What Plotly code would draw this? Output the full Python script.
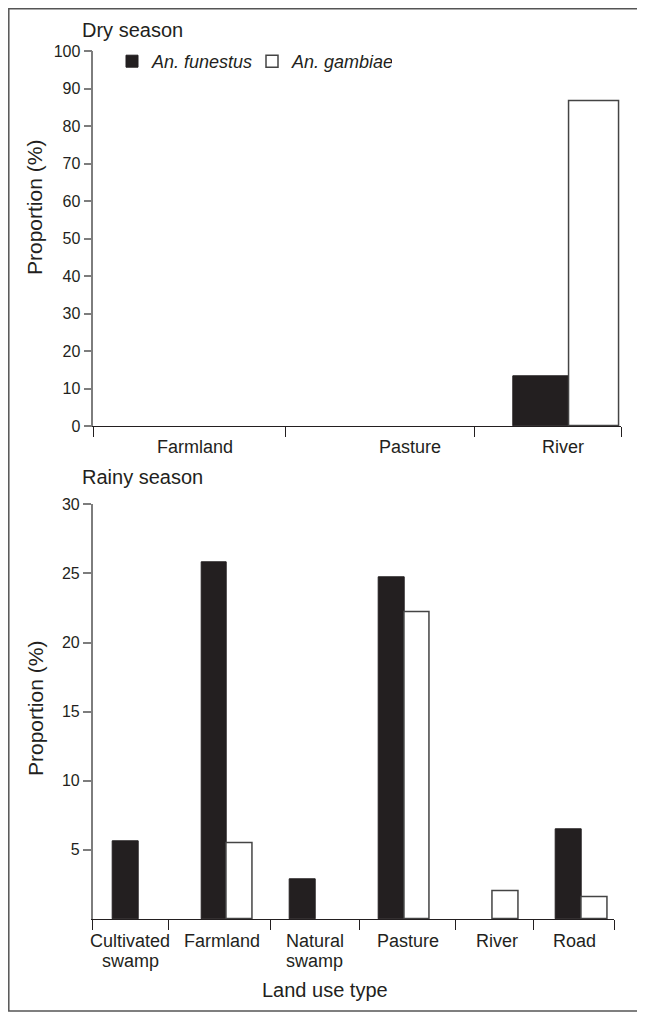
import plotly.graph_objects as go

# ---------------- data ----------------
species = ["An. funestus", "An. gambiae"]

dry_categories = ["Farmland", "Pasture", "River"]
dry_funestus = [0, 0, 13.4]
dry_gambiae = [0, 0, 86.6]
dry_yticks = [0, 10, 20, 30, 40, 50, 60, 70, 80, 90, 100]

rainy_categories = ["Cultivated\nswamp", "Farmland", "Natural\nswamp", "Pasture", "River", "Road"]
rainy_funestus = [5.6, 25.8, 2.9, 24.7, 0, 6.5]
rainy_gambiae = [0, 5.5, 0, 22.2, 2.0, 1.6]
rainy_yticks = [5, 10, 15, 20, 25, 30]

# ---------------- layout helpers ----------------
OFF = 8                      # page body margin added by the browser
W, H = 645 - OFF, 1020 - OFF
def px(x):
    return (x - OFF) / W
def py(y):
    return 1 - (y - OFF) / H

INK = "#231f20"
AXGRAY = "#7d7d7d"
FONT = "Liberation Sans, Arial, Helvetica, sans-serif"

# separator tick positions (category boundaries) and label shifts (layout only)
dry_sep = [-0.51, 0.5, 1.5, 2.27]
dry_label_shift = [5, 30, -7]
rainy_sep = [-0.514, 0.338, 1.493, 2.49, 3.578, 4.453, 5.366]
rainy_label_shift = [-8, -5, -1, 4, 4, -7]

dry_x = list(range(len(dry_categories)))
rainy_x = list(range(len(rainy_categories)))

def drawn(vals):
    # zero-height bars are not drawn in the original
    return [v if v else None for v in vals]

fig = go.Figure()

# Dry season bars
fig.add_trace(go.Bar(x=dry_x, y=drawn(dry_funestus), name="<i>%s</i>" % species[0],
                     width=0.3, offset=-0.3, marker=dict(color=INK, line=dict(color=INK, width=1)),
                     xaxis="x", yaxis="y", legendgroup="f", showlegend=True))
fig.add_trace(go.Bar(x=dry_x, y=drawn(dry_gambiae), name="<i>%s</i>" % species[1],
                     width=0.26, offset=0, marker=dict(color="white", line=dict(color="#444", width=1.5)),
                     xaxis="x", yaxis="y", legendgroup="g", showlegend=True))

# Rainy season bars
fig.add_trace(go.Bar(x=rainy_x, y=drawn(rainy_funestus), name=species[0],
                     width=0.29, offset=-0.29, marker=dict(color=INK, line=dict(color=INK, width=1)),
                     xaxis="x2", yaxis="y2", legendgroup="f", showlegend=False))
fig.add_trace(go.Bar(x=rainy_x, y=drawn(rainy_gambiae), name=species[1],
                     width=0.29, offset=0, marker=dict(color="white", line=dict(color="#444", width=1.5)),
                     xaxis="x2", yaxis="y2", legendgroup="g", showlegend=False))

xcommon = dict(showline=True, linecolor=INK, linewidth=1, ticks="outside", ticklen=10,
               tickcolor=INK, tickwidth=1, showticklabels=False, showgrid=False,
               zeroline=False, automargin=False, fixedrange=True)
ycommon = dict(showline=True, linecolor=AXGRAY, linewidth=1.5, ticks="outside", ticklen=8,
               tickcolor=AXGRAY, tickwidth=1.5, showgrid=False, zeroline=False,
               automargin=False, fixedrange=True,
               tickfont=dict(size=16, color=INK, family=FONT))

annotations = []
def txt(text, x, y, size, xanchor="center", yanchor="middle", angle=0, xref="paper", xshift=0):
    annotations.append(dict(text=text, x=x, y=y, xref=xref, yref="paper", showarrow=False,
                            xanchor=xanchor, yanchor=yanchor, textangle=angle, xshift=xshift,
                            font=dict(size=size, color=INK, family=FONT)))

txt("Dry season", px(80), py(30), 20, xanchor="left")
txt("Rainy season", px(80), py(477), 20, xanchor="left")
txt("Proportion (%)", px(35), py(208), 21, angle=-90)
txt("Proportion (%)", px(35), py(709), 21, angle=-90)
txt("Land use type", px(325), py(990), 20)

for i, c in enumerate(dry_categories):
    txt(c, i, py(446.5), 18, xref="x", xshift=dry_label_shift[i])
for i, c in enumerate(rainy_categories):
    for j, line in enumerate(c.split("\n")):
        txt(line, i, py(941 + 20 * j), 18, xref="x2", xshift=rainy_label_shift[i])

fig.update_layout(
    width=W, height=H,
    margin=dict(l=0, r=0, t=0, b=0, pad=0),
    paper_bgcolor="white", plot_bgcolor="white",
    font=dict(family=FONT, color=INK),
    barmode="overlay",
    bargap=0,
    xaxis=dict(domain=[px(93.3), px(621)], range=[dry_sep[0], dry_sep[-1]], tickvals=dry_sep,
               anchor="y", **xcommon),
    yaxis=dict(domain=[py(426.3), py(51.3)], range=[0, 100], tickvals=dry_yticks,
               anchor="x", **ycommon),
    xaxis2=dict(domain=[px(92.7), px(614.3)], range=[rainy_sep[0], rainy_sep[-1]], tickvals=rainy_sep,
                anchor="y2", **xcommon),
    yaxis2=dict(domain=[py(919), py(504.3)], range=[0, 30], tickvals=rainy_yticks,
                anchor="x2", **ycommon),
    legend=dict(orientation="h", x=px(112), y=py(61.5), xanchor="left", yanchor="middle",
                bgcolor="rgba(0,0,0,0)", borderwidth=0, entrywidth=95, entrywidthmode="pixels",
                font=dict(size=18, color=INK, family=FONT), traceorder="normal"),
    annotations=annotations,
    shapes=[dict(type="rect", xref="paper", yref="paper", x0=px(8.8), x1=px(638.5),
                 y0=py(1011), y1=py(8.8), line=dict(color="#555", width=1.5), layer="above")],
    showlegend=True,
)

fig.write_html("out.html")
